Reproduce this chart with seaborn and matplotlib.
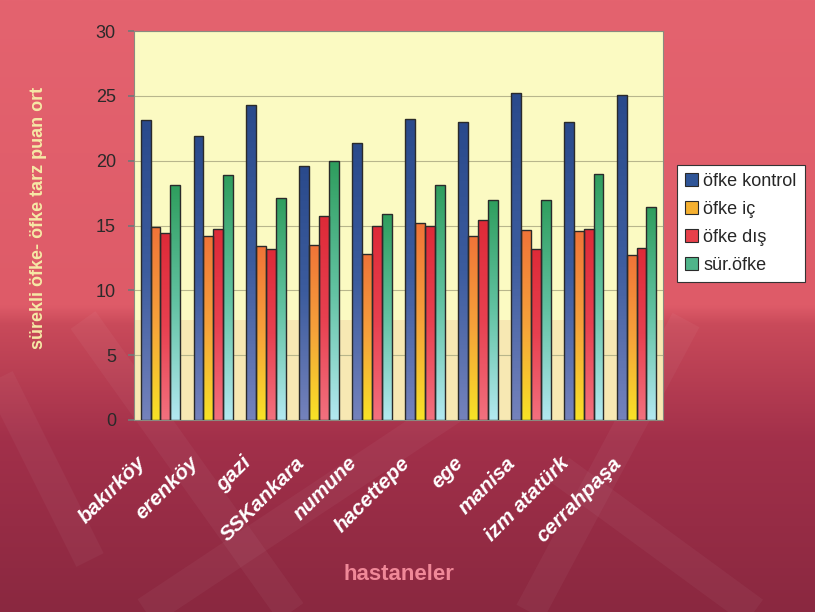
import matplotlib.pyplot as plt
import matplotlib.colors as mcolors
from matplotlib.patches import Patch
from matplotlib.transforms import ScaledTranslation
import numpy as np
import pandas as pd
import seaborn as sns

# values
hastaneler = ["bakırköy", "erenköy", "gazi", "SSKankara", "numune",
              "hacettepe", "ege", "manisa", "izm atatürk", "cerrahpaşa"]
ofke_kontrol = [23.1, 21.9, 24.3, 19.6, 21.4, 23.2, 22.95, 25.2, 22.95, 25.1]
ofke_ic = [14.85, 14.2, 13.4, 13.5, 12.8, 15.2, 14.2, 14.65, 14.6, 12.7]
ofke_dis = [14.4, 14.7, 13.2, 15.7, 15.0, 15.0, 15.4, 13.2, 14.75, 13.25]
sur_ofke = [18.1, 18.9, 17.1, 19.95, 15.85, 18.1, 17.0, 17.0, 19.0, 16.4]
seriler = ["öfke kontrol", "öfke iç", "öfke dış", "sür.öfke"]

# gradient fill per series: top -> bottom
renkler = {
    "öfke kontrol": ["#2A4A8C", "#3C5C9E", "#7482BC"],
    "öfke iç": ["#F07438", "#F6A23A", "#F8E226"],
    "öfke dış": ["#DE2A38", "#E84050", "#F2707E"],
    "sür.öfke": ["#2F9E5E", "#62C2A2", "#B2E8F0"],
}
legend_renk = ["#2F5597", "#F5B030", "#E8404A", "#4FB48A"]

df = pd.DataFrame({
    "hastane": hastaneler * 4,
    "puan": ofke_kontrol + ofke_ic + ofke_dis + sur_ofke,
    "tarz": [s for s in seriler for _ in hastaneler],
})

sns.set_theme(style="white")
plt.rcParams["font.family"] = ["Liberation Sans", "DejaVu Sans"]

W, H = 815, 612
fig = plt.figure(figsize=(W / 100, H / 100), dpi=100)

# red page background (pixel coordinates)
bg = fig.add_axes([0, 0, 1, 1], zorder=-10)
bg_cmap = mcolors.LinearSegmentedColormap.from_list(
    "bg", [(0, "#E4636F"), (0.5, "#DE5B68"), (0.53, "#C94A5A"),
           (0.72, "#A2304A"), (1, "#8A2840")])
bg.imshow(np.linspace(0, 1, 256).reshape(-1, 1), cmap=bg_cmap, aspect="auto",
          extent=[0, W, H, 0])
# faint watermark bands in the lower part of the page
for (x1, y1), (x2, y2) in [((83, 320), (291, 612)), ((586, 320), (146, 612)),
                           ((686, 320), (530, 612)), ((560, 470), (754, 612)),
                           ((-20, 340), (90, 560))]:
    bg.plot([x1, x2], [y1, y2], color="white", alpha=0.04, lw=22,
            solid_capstyle="butt")
bg.set_xlim(0, W)
bg.set_ylim(H, 0)
bg.axis("off")

ax = fig.add_axes([134 / W, 1 - 420 / H, 529 / W, 389 / H])
ax.set_facecolor("#FBFAC2")

sns.barplot(data=df, x="hastane", y="puan", hue="tarz", hue_order=seriler,
            palette=legend_renk, width=0.75, saturation=1, edgecolor="#2a2a2a",
            linewidth=1, legend=False, ax=ax, zorder=3)

# gradient fill inside every bar
for seri, cont in zip(seriler, ax.containers):
    cmap = mcolors.LinearSegmentedColormap.from_list(seri, renkler[seri][::-1])
    for bar in cont:
        x0, w, h = bar.get_x(), bar.get_width(), bar.get_height()
        im = ax.imshow(np.linspace(0, 1, 100).reshape(-1, 1), cmap=cmap,
                       origin="lower", aspect="auto",
                       extent=[x0, x0 + w, 0, h], zorder=2.9)
        im.set_clip_path(bar)
        bar.set_facecolor("none")

ax.axhspan(0, 7.7, color="#E89A70", alpha=0.18, zorder=0.5, lw=0)
ax.set_xlim(-0.5, 9.5)
ax.set_ylim(0, 30)
ax.set_yticks(range(0, 31, 5))
ax.yaxis.grid(True, color="#B8B68C", linewidth=0.8)
ax.set_axisbelow(True)
for sp in ax.spines.values():
    sp.set_color("#8A8A80")
    sp.set_linewidth(0.8)

ax.tick_params(axis="y", left=True, length=4, color="#777777",
               labelcolor="#2a2a2a", labelsize=13, pad=9)
ax.tick_params(axis="x", bottom=False, length=0, pad=24)
ax.set_xticks(range(len(hastaneler)))
ax.set_xticklabels(hastaneler, rotation=45, ha="right", fontsize=15,
                   fontweight="bold", fontstyle="italic", color="white")
shift = ScaledTranslation(-11 / 100, 0, fig.dpi_scale_trans)
for lab in ax.get_xticklabels():
    lab.set_transform(lab.get_transform() + shift)

ax.set_ylabel("sürekli öfke- öfke tarz puan ort", color="#F6E9A6",
              fontsize=13, fontweight="bold")
ax.yaxis.set_label_coords(-0.164, 0.52)
ax.set_xlabel("hastaneler", color="#F08898", fontsize=16, fontweight="bold")
ax.xaxis.set_label_coords(0.5, -0.37)

handles = [Patch(facecolor=c, edgecolor="#2a2a2a", linewidth=0.8) for c in legend_renk]
leg = fig.legend(handles, seriler, loc="upper left",
                 bbox_to_anchor=(677 / W, 1 - 165 / H), borderaxespad=0,
                 fontsize=13, frameon=True, fancybox=False, framealpha=1,
                 facecolor="white", edgecolor="#333333", handlelength=0.7,
                 handleheight=0.7, handletextpad=0.3, labelspacing=0.6,
                 borderpad=0.45)
leg.get_frame().set_linewidth(0.8)

fig.savefig("out.png", dpi=100)
